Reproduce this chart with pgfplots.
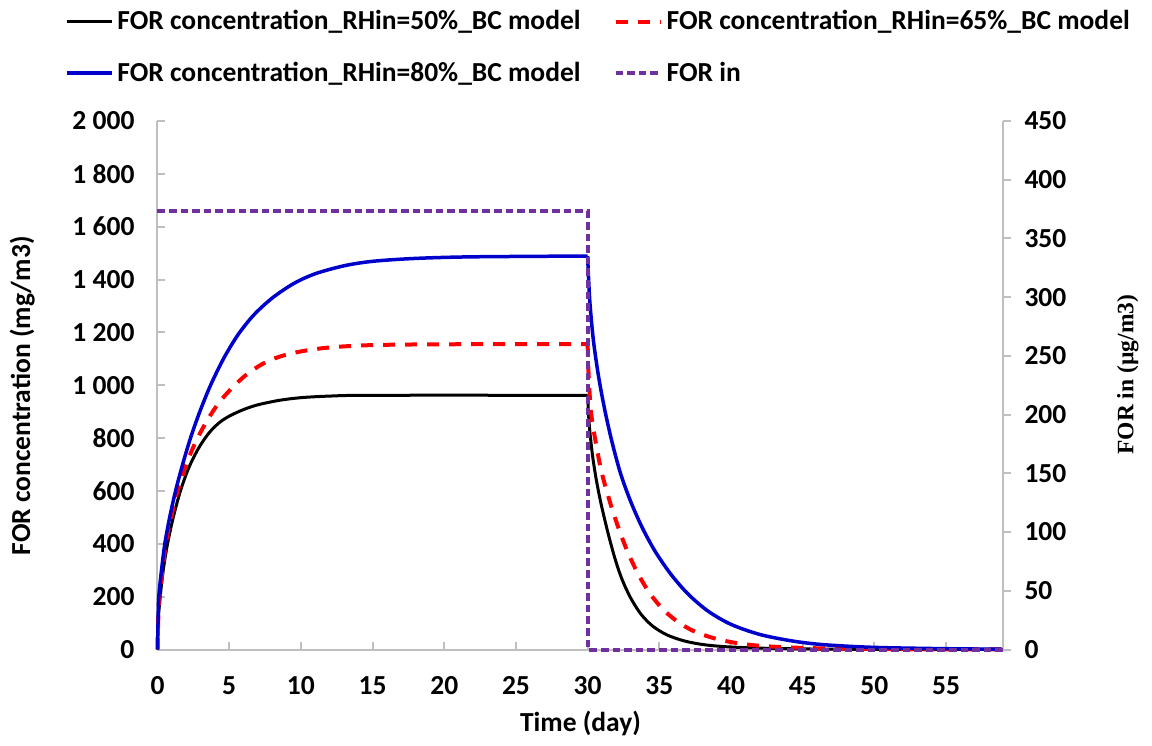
\documentclass[border=0pt]{standalone}
\usepackage{fontspec}
\setmainfont{Carlito}
\newfontfamily\timesf{Liberation Serif}
\usepackage{pgfplots}
\pgfplotsset{compat=1.18}
\definecolor{axgray}{HTML}{BFBFBF}
\definecolor{forpurple}{HTML}{7030A0}
\definecolor{cblue}{HTML}{0000CC}
\definecolor{cred}{HTML}{FF0000}
\newcommand{\tfont}{\fontsize{13.75}{16}\selectfont\bfseries}
\pgfplotsset{
  base/.style={
    scale only axis, width=423pt, height=264.25pt,
    xmin=0, xmax=59, clip=false,
    /pgf/number format/assume math mode=true,
    tick label style={font=\tfont},
    label style={font=\tfont},
    axis line style={-, axgray, line width=1pt},
    major tick length=4pt,
    every tick/.style={axgray, line width=1pt},
  },
  blackl/.style={black, line width=1.5pt},
  redl/.style={cred, line width=2pt, dash pattern=on 6pt off 5pt},
  bluel/.style={cblue, line width=1.75pt},
  purl/.style={forpurple, line width=2pt, dash pattern=on 3.8pt off 2pt},
}
\begin{document}
\begin{tikzpicture}
\begin{axis}[base,
  axis x line*=bottom, axis y line*=left,
  tick align=inside,
  ymin=0, ymax=2000,
  ytick={0,200,...,2000},
  yticklabels={0,200,400,600,800,1 000,1 200,1 400,1 600,1 800,2 000},
  xtick={0,5,...,55},
  yticklabel style={xshift=-8pt},
  xticklabel style={yshift=-10pt},
  xlabel={Time (day)},
  ylabel={FOR concentration (mg/m3)},
  xlabel style={at={(axis description cs:0.5,-0.14)}, anchor=center},
  ylabel style={at={(axis description cs:-0.160,0.48)}, anchor=center},
]
\coordinate (sw) at (rel axis cs:0,0);
% black: RHin = 50%
\addplot[blackl, smooth, tension=0.5] coordinates {
(0,0) (0.05,110) (0.19,200) (0.4,300) (0.7,400) (1.1,500) (1.6,600) (2.2,690) (2.9,765) (3.6,820) (4.3,858) (5,883) (6,908) (7,926) (8.5,943) (10,953) (12,959) (15,962) (30,962)};
\addplot[blackl, smooth, tension=0.5] coordinates {
(30,962) (30.05,900) (30.14,832) (30.35,730) (30.61,640) (30.94,550) (31.4,445) (31.9,345) (32.4,265) (33,195) (33.7,135) (34.5,90) (35.5,56) (36.7,33) (38,19) (39.5,11) (41.5,6) (44,3) (48,1) (59,0)};
% red: RHin = 65%
\addplot[redl, smooth, tension=0.5] coordinates {
(0,0) (0.05,110) (0.14,200) (0.35,300) (0.58,400) (0.95,500) (1.4,600) (2.0,700) (2.7,790) (3.5,870) (4.3,935) (5.2,990) (6.2,1040) (7.3,1080) (8.5,1108) (10,1128) (12,1143) (15,1152) (20,1155) (30,1156)};
\addplot[redl, smooth, tension=0.5] coordinates {
(30,1156) (30.05,1060) (30.23,900) (30.61,770) (31.0,665) (31.6,550) (32.2,452) (32.8,368) (33.5,288) (34.3,215) (35.2,155) (36.2,108) (37.3,72) (38.6,46) (40,28) (42,14) (45,6) (48,3) (52,1) (59,0)};
% blue: RHin = 80%
\addplot[bluel, smooth, tension=0.5] coordinates {
(0,0) (0.04,110) (0.09,200) (0.28,300) (0.51,400) (0.85,500) (1.26,600) (1.75,700) (2.3,800) (2.95,900) (3.7,1000) (4.6,1100) (5.6,1190) (6.7,1265) (8,1330) (9.5,1385) (11,1422) (13,1452) (15,1469) (18,1480) (22,1486) (30,1489)};
\addplot[bluel, smooth, tension=0.5] coordinates {
(30,1489) (30.05,1420) (30.16,1310) (30.4,1170) (30.77,1030) (31.2,905) (31.7,785) (32.3,665) (33,560) (33.8,462) (34.7,372) (35.8,285) (37,210) (38.4,145) (40,95) (42,57) (44.3,32) (46.5,18) (50,8) (55,3) (59,1)};
\end{axis}
\begin{axis}[base,
  axis x line=none, axis y line*=right,
  tick align=outside,
  ymin=0, ymax=450,
  ytick={0,50,...,450},
  yticklabel style={xshift=3pt},
  ylabel={\timesf\fontsize{11.75}{14}\selectfont\bfseries FOR in (µg/m3)},
  ylabel style={at={(axis description cs:1.147,0.52)}, anchor=center},
  legend columns=2,
  legend cell align=left,
  legend style={at={(-0.117,1.225)}, anchor=north west, draw=none, fill=none,
    font=\tfont, /tikz/every even column/.append style={column sep=14.5pt}, row sep=10.5pt},
  legend image code/.code={\draw[#1] (0pt,0pt) -- (22.5pt,0pt);},
]
\addlegendimage{blackl}
\addlegendentry{FOR concentration\_RHin=50\%\_BC model}
\addlegendimage{redl}
\addlegendentry{FOR concentration\_RHin=65\%\_BC model}
\addlegendimage{bluel}
\addlegendentry{FOR concentration\_RHin=80\%\_BC model}
\addplot[purl] coordinates {(0,373) (30,373) (30,0) (59,0)};
\addlegendentry{FOR in}
\end{axis}
\pgfresetboundingbox
\path (sw) ++(-78.75pt,-47.75pt) rectangle ++(576pt,372.5pt);
\end{tikzpicture}
\end{document}
